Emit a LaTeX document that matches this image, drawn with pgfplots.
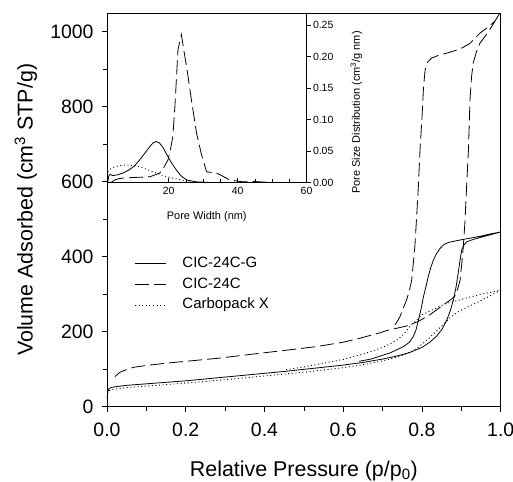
\documentclass[border=0pt]{standalone}
\usepackage{fontspec}
\setmainfont{Liberation Sans}
\usepackage{pgfplots}
\pgfplotsset{compat=1.18}

\begin{document}
\begin{tikzpicture}
\pgfplotsset{
  curveG/.style={black, line width=0.8bp},
  curveC/.style={black, line width=0.8bp, dash pattern=on 14bp off 5bp},
  curveX/.style={black, line width=0.9bp, dash pattern=on 1bp off 2.6bp},
}
% main isotherm panel
\begin{axis}[
    name=main, at={(0,0)}, anchor=south west,
    scale only axis, width=393.7bp, height=393.7bp,
    xmin=0, xmax=1, ymin=0, ymax=1050,
    xtick={0,0.2,0.4,0.6,0.8,1}, ytick={0,200,400,600,800,1000},
    minor x tick num=1, minor y tick num=1,
    tick align=outside, xtick pos=left, ytick pos=left,
    major tick length=5bp, minor tick length=4bp,
    axis line style={line width=0.8bp}, tick style={line width=0.7bp, black},
    /pgf/number format/assume math mode=true,
    /pgf/number format/1000 sep={},
    xticklabel style={/pgf/number format/fixed, /pgf/number format/fixed zerofill,
      /pgf/number format/precision=1, yshift=-8bp},
    tick label style={font=\fontsize{19.5}{21}\selectfont},
    yticklabel style={xshift=-5bp},
    label style={font=\fontsize{21.5}{24}\selectfont},
    xlabel={Relative Pressure (p/p\textsubscript{0})},
    ylabel={Volume Adsorbed (cm\textsuperscript{3} STP/g)},
    xlabel style={at={(axis description cs:0.5,-0.162)}, anchor=center},
    ylabel style={at={(axis description cs:-0.206,0.5)}, anchor=center},
    legend style={draw=none, fill=none, at={(axis description cs:0.062,0.392)}, anchor=north west,
      font=\fontsize{15}{17}\selectfont, row sep=2.7bp,
      nodes={text height=11bp, text depth=3bp, inner sep=2bp},
      /tikz/every odd column/.append style={column sep=14bp}},
    legend cell align=left,
    legend image code/.code={\draw[#1] (0bp,0bp) -- (31bp,0bp);},
]
\addplot[curveG] coordinates {
 (0.0005,20) (0.002,40) (0.005,48) (0.01,51) (0.02,53) (0.05,57) (0.1,61) (0.15,65)
 (0.2,69) (0.28,77) (0.36,85) (0.45,94) (0.53,103) (0.6,111) (0.65,118) (0.7,127)
 (0.74,136) (0.77,145) (0.8,158) (0.82,172) (0.837,188) (0.852,208) (0.863,231)
 (0.872,256) (0.88,285) (0.887,322) (0.892,356) (0.897,392) (0.901,418) (0.907,432)
 (0.914,440) (0.93,446) (0.95,452) (0.975,459) (1.0,466)
 (0.975,461) (0.95,455) (0.925,450) (0.904,446) (0.885,442) (0.867,438) (0.855,432)
 (0.846,422) (0.837,408) (0.829,391) (0.822,370) (0.816,347) (0.81,320) (0.804,294)
 (0.798,262) (0.792,235) (0.785,205) (0.778,187) (0.768,172) (0.753,160) (0.72,144)
 (0.70,137) (0.67,127) (0.64,121)
};
\addlegendentry{CIC-24C-G}
\addplot[curveC] coordinates {
 (0.02,80) (0.033,92) (0.05,99) (0.067,105) (0.1,110) (0.15,116) (0.2,121) (0.28,129)
 (0.36,139) (0.45,150) (0.53,160) (0.6,172) (0.64,182) (0.69,196) (0.71,203) (0.76,215)
 (0.79,227) (0.82,245) (0.854,271) (0.875,287) (0.884,295) (0.891,315) (0.897,338)
 (0.901,380) (0.905,427) (0.909,489) (0.914,600) (0.918,684) (0.922,818) (0.926,880)
 (0.930,916) (0.938,945) (0.947,969) (0.969,1000) (0.997,1048)
 (0.985,1028) (0.965,1010) (0.947,996) (0.922,969) (0.897,954) (0.87,945) (0.842,937)
 (0.825,930) (0.815,920) (0.808,898) (0.804,853) (0.8,770) (0.795,684) (0.791,590)
 (0.787,516) (0.782,427) (0.774,338) (0.767,305) (0.761,285) (0.744,240) (0.736,225)
 (0.725,210)
};
\addlegendentry{CIC-24C}
\addplot[curveX] coordinates {
 (0.0005,25) (0.002,38) (0.005,43) (0.01,45) (0.02,47) (0.05,51) (0.1,55) (0.2,63)
 (0.3,72) (0.4,82) (0.5,92) (0.6,104) (0.65,112) (0.7,122) (0.74,133) (0.77,145)
 (0.79,158) (0.81,175) (0.825,190) (0.84,205) (0.855,220) (0.87,236) (0.89,252)
 (0.92,268) (0.95,283) (0.975,297) (1.0,311)
 (0.975,305) (0.95,300) (0.92,292) (0.89,283) (0.86,275) (0.84,265) (0.82,255)
 (0.80,245) (0.785,230) (0.77,215) (0.755,195) (0.74,180) (0.72,168) (0.70,158)
 (0.65,140) (0.6,126) (0.55,116) (0.5,106) (0.45,98)
};
\addlegendentry{Carbopack X}
\end{axis}

% inset: pore size distribution
\begin{axis}[
    at={(0bp,224.2bp)}, anchor=south west,
    scale only axis, width=199.5bp, height=169.5bp,
    xmin=2.1, xmax=60, ymin=0, ymax=0.2693,
    xtick={20,40,60}, ytick={0,0.05,0.10,0.15,0.20,0.25},
    minor x tick num=3,
    tick align=inside, xtick pos=left, ytick pos=right, yticklabel pos=right,
    major tick length=4bp, minor tick length=3bp,
    axis line style={line width=0.8bp}, tick style={line width=0.6bp, black},
    major y tick style={xshift=4bp},
    /pgf/number format/assume math mode=true,
    yticklabel style={/pgf/number format/fixed, /pgf/number format/fixed zerofill,
      /pgf/number format/precision=2, xshift=3bp},
    xticklabel style={yshift=-1bp},
    tick label style={font=\fontsize{10.5}{12}\selectfont},
    label style={font=\fontsize{11}{13}\selectfont},
    xlabel={Pore Width (nm)},
    ylabel={Pore Size Distribution (cm\textsuperscript{3}/g nm)},
    xlabel style={at={(axis description cs:0.5,-0.204)}, anchor=center},
    ylabel style={at={(axis description cs:1.25,0.413)}, anchor=center},
]
\addplot[curveG] coordinates {
 (2.3,0.0) (2.6,0.010) (3.0,0.013) (3.8,0.011) (5,0.012) (6.7,0.015) (8.5,0.020)
 (10,0.026) (11.6,0.036) (13,0.046) (14.5,0.057) (15.5,0.063) (16.4,0.065) (17.3,0.063)
 (18.3,0.056) (19.3,0.046) (20.5,0.034) (22.2,0.020) (23.5,0.011) (25.2,0.004)
 (28,0.001) (32,0.0) (60,0.0)
};
\addplot[curveC] coordinates {
 (3.3,0.0) (4.3,0.004) (5.5,0.006) (6.7,0.007) (10,0.008) (14.5,0.009) (17.4,0.015)
 (18.6,0.024) (19.8,0.036) (20.5,0.052) (21.2,0.073) (21.8,0.12) (22.3,0.17)
 (22.7,0.211) (23.7,0.235) (24.4,0.21) (25.2,0.184) (26.5,0.135) (28.1,0.078)
 (29.5,0.045) (31.0,0.017) (33.9,0.015) (36,0.009) (37.8,0.004) (41.6,0.001)
 (45,0.0015) (50,0.0) (60,0.0)
};
\addplot[curveX] coordinates {
 (2.3,0.017) (3,0.021) (4.3,0.025) (6,0.027) (7.7,0.028) (9.5,0.027) (11.6,0.025)
 (14,0.020) (16.4,0.015) (19,0.010) (21.2,0.007) (23.5,0.004) (26.1,0.001) (30,0.0)
 (60,0.0)
};
\end{axis}

\pgfresetboundingbox
\path[use as bounding box] (-107bp,-75.3bp) rectangle (406bp,406.7bp);
\end{tikzpicture}
\end{document}
